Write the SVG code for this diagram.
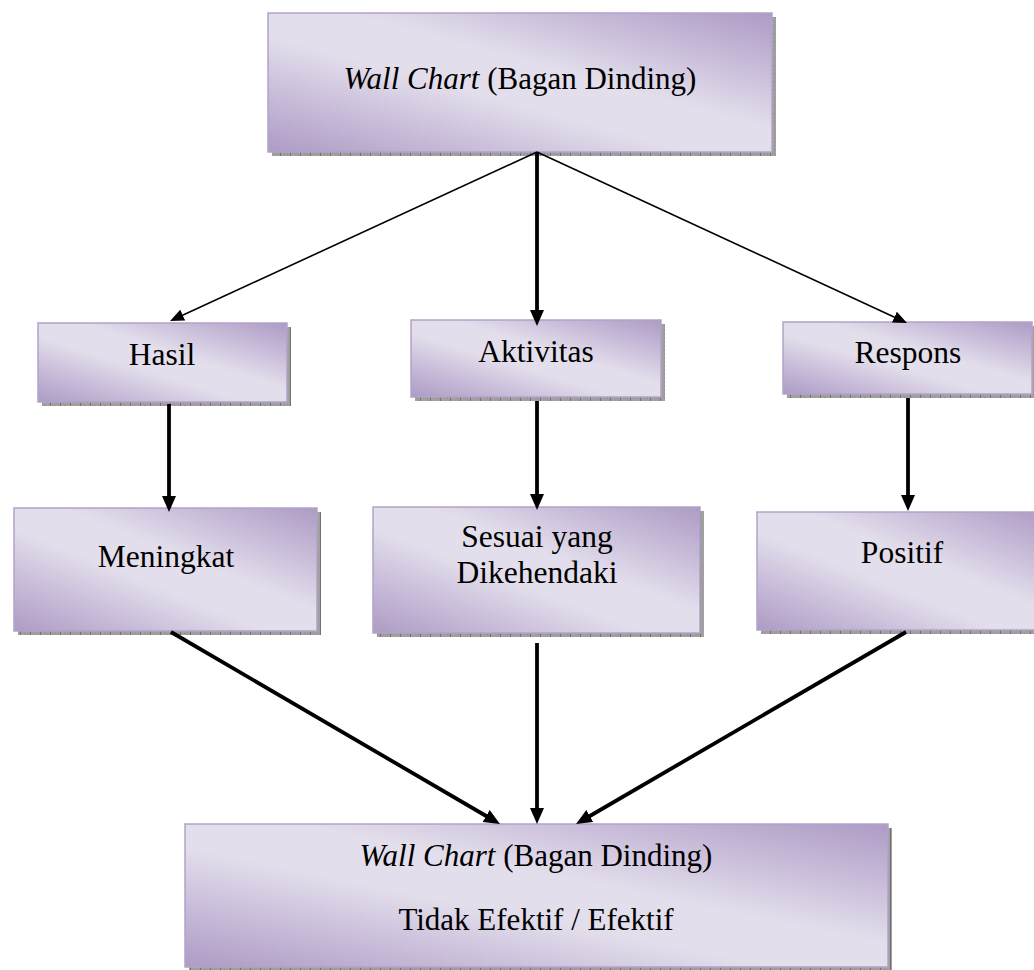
<svg xmlns="http://www.w3.org/2000/svg" width="1034" height="970" viewBox="0 0 1034 970">
<defs>
<style>
.box{fill:url(#g);stroke:#b3a2c8;stroke-width:1.5}
.sh{fill:url(#shp)}
.t{font-family:'Liberation Serif','Times New Roman',serif;font-size:31.5px;fill:#000;text-anchor:middle}
.tb{font-size:31px}
.thin{stroke:#000;stroke-width:1.6;fill:none;marker-end:url(#ah1)}
.thick{stroke:#000;stroke-width:3.8;fill:none;marker-end:url(#ah2)}
</style>
<linearGradient id="g" x1="1" y1="0" x2="0" y2="1">
<stop offset="0" stop-color="#ad9bc4"/>
<stop offset="0.22" stop-color="#c9bdda"/>
<stop offset="0.42" stop-color="#e3deeb"/>
<stop offset="0.58" stop-color="#e3deeb"/>
<stop offset="0.78" stop-color="#c9bdda"/>
<stop offset="1" stop-color="#ad9bc4"/>
</linearGradient>
<pattern id="shp" width="10" height="4" patternUnits="userSpaceOnUse">
<rect width="10" height="4" fill="#a0a0a0"/>
<rect x="0" y="0" width="1" height="4" fill="#727272"/>
<rect x="4" y="1" width="1" height="1" fill="#888"/>
<rect x="7" y="2" width="1" height="1" fill="#888"/>
</pattern>
<marker id="ah1" markerUnits="userSpaceOnUse" markerWidth="14" markerHeight="12" refX="8" refY="6" orient="auto">
<path d="M0,0 L14,6 L0,12 z" fill="#000"/>
</marker>
<marker id="ah2" markerUnits="userSpaceOnUse" markerWidth="16" markerHeight="14" refX="4" refY="7" orient="auto">
<path d="M0,0 L16,7 L0,14 z" fill="#000"/>
</marker>
</defs>
<rect width="1034" height="970" fill="#fff"/>

<g id="node-top">
<rect class="sh" x="272" y="17" width="504" height="139"/>
<rect class="box" x="268" y="13" width="504" height="139"/>
<text class="t tb" x="520" y="89"><tspan font-style="italic">Wall Chart</tspan> (Bagan Dinding)</text>
</g>

<g id="node-hasil">
<rect class="sh" x="42" y="327" width="249" height="79"/>
<rect class="box" x="38" y="323" width="249" height="79"/>
<text class="t" x="162" y="365">Hasil</text>
</g>

<g id="node-aktivitas">
<rect class="sh" x="415" y="324" width="250" height="77"/>
<rect class="box" x="411" y="320" width="250" height="77"/>
<text class="t" x="536" y="362">Aktivitas</text>
</g>

<g id="node-respons">
<rect class="sh" x="787" y="326" width="249" height="72"/>
<rect class="box" x="783" y="322" width="249" height="72"/>
<text class="t" x="908" y="363">Respons</text>
</g>

<g id="node-meningkat">
<rect class="sh" x="18" y="512" width="303" height="123"/>
<rect class="box" x="14" y="508" width="303" height="123"/>
<text class="t" x="166" y="567">Meningkat</text>
</g>

<g id="node-sesuai">
<rect class="sh" x="377" y="511" width="327" height="126"/>
<rect class="box" x="373" y="507" width="327" height="126"/>
<text class="t" x="537" y="547">Sesuai yang</text>
<text class="t" x="537" y="583">Dikehendaki</text>
</g>

<g id="node-positif">
<rect class="sh" x="761" y="516" width="290" height="118"/>
<rect class="box" x="757" y="512" width="290" height="118"/>
<text class="t" x="902" y="563">Positif</text>
</g>

<g id="node-bottom">
<rect class="sh" x="189" y="828" width="703" height="143"/>
<rect class="box" x="185" y="824" width="703" height="143"/>
<text class="t tb" x="536" y="866"><tspan font-style="italic">Wall Chart</tspan> (Bagan Dinding)</text>
<text class="t tb" x="536" y="930">Tidak Efektif / Efektif</text>
</g>

<g id="connectors">
<path class="thin" d="M537,152 L175.5,318.5"/>
<path class="thin" d="M537,152 L901.6,320.5"/>
<path class="thick" d="M537,152 L537,314"/>
<path class="thick" d="M169,404 L169,500"/>
<path class="thick" d="M537,401 L537,498"/>
<path class="thick" d="M908,398 L908,499"/>
<path class="thick" d="M171,632 L489.6,818"/>
<path class="thick" d="M537,643 L537,812"/>
<path class="thick" d="M906,632 L586.4,818"/>
</g>
</svg>
